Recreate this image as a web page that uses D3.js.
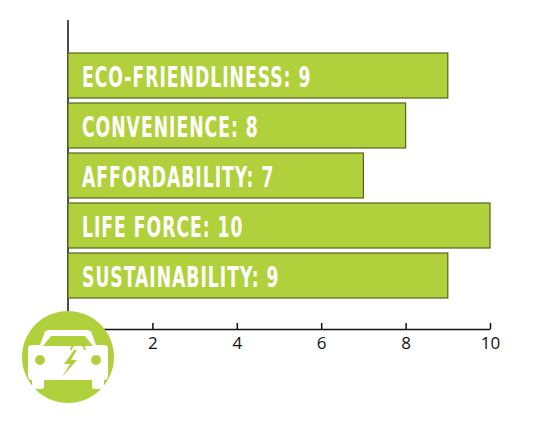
<!DOCTYPE html>
<html>
<head>
<meta charset="utf-8">
<script src="https://cdn.jsdelivr.net/npm/d3@7"></script>
<style>
  body { margin: 0; background: #fff; }
  svg { display: block; }
</style>
</head>
<body>
<svg id="chart" width="534" height="445"></svg>
<script>
// chart data
var categories = ["ECO-FRIENDLINESS", "CONVENIENCE", "AFFORDABILITY", "LIFE FORCE", "SUSTAINABILITY"];
var values = [9, 8, 7, 10, 9];
var tickValues = [2, 4, 6, 8, 10];

var GREEN = "#b0d13c";
var EDGE = "#56661f";

var svg = d3.select("#chart");
var margin = {left: 68, top: 20, right: 44, bottom: 116};
var width = 534 - margin.left - margin.right;
var height = 445 - margin.top - margin.bottom;

var g = svg.append("g").attr("transform", `translate(${margin.left},${margin.top})`);

var x = d3.scaleLinear().domain([0, 10]).range([0, width]);
var y = d3.scaleBand()
    .domain(categories)
    .range([33, 278])
    .paddingInner(0.1)
    .paddingOuter(0);

// y axis is just a plain vertical line
g.append("line")
    .attr("x1", 0).attr("x2", 0)
    .attr("y1", 0).attr("y2", height)
    .style("stroke", "#111")
    .style("stroke-width", 1.5);

// x axis with small ticks pointing up
var xAxis = g.append("g")
    .attr("transform", `translate(0,${height})`)
    .call(d3.axisBottom(x).tickValues(tickValues).tickSizeInner(-6).tickSizeOuter(0).tickPadding(8));
xAxis.select(".domain").style("stroke", "#111").style("stroke-width", 1.5);
xAxis.selectAll(".tick line").style("stroke", "#111").style("stroke-width", 1.5);
xAxis.selectAll(".tick text")
    .style("font-family", "'Open Sans', 'Noto Sans', sans-serif")
    .style("font-size", "17px")
    .style("fill", "#111");

// bars
var bars = g.selectAll(".bar")
    .data(categories)
    .enter()
    .append("g")
    .attr("class", "bar");

bars.append("rect")
    .attr("x", 0)
    .attr("y", d => y(d))
    .attr("width", (d, i) => x(values[i]))
    .attr("height", y.bandwidth())
    .style("fill", GREEN)
    .style("stroke", EDGE)
    .style("stroke-width", 1.2);

bars.append("text")
    .attr("transform", d => `translate(14,${y(d) + y.bandwidth() / 2 + 11}) scale(0.66,1)`)
    .style("font-family", "'DejaVu Sans Condensed', 'DejaVu Sans', sans-serif")
    .style("font-weight", "bold")
    .style("font-size", "29px")
    .style("letter-spacing", "1.5px")
    .style("fill", "#fff")
    .text((d, i) => `${d}: ${values[i]}`);

// car badge over the axis corner
var icon = svg.append("g").attr("transform", "translate(68,357)");
icon.append("circle").attr("r", 46).style("fill", GREEN);

// car body with roof
icon.append("path")
    .attr("d", "M-19,-27 L19,-27 Q23,-27 24,-23 L28,-12 L36,-12 Q40,-12 40,-8 L40,19 Q40,23 36,23 L-36,23 Q-40,23 -40,19 L-40,-8 Q-40,-12 -36,-12 L-28,-12 L-24,-23 Q-23,-27 -19,-27 Z")
    .style("fill", "#fff");
// wheels
icon.append("rect").attr("x", -36).attr("y", 20).attr("width", 12).attr("height", 12).attr("rx", 2).style("fill", "#fff");
icon.append("rect").attr("x", 24).attr("y", 20).attr("width", 12).attr("height", 12).attr("rx", 2).style("fill", "#fff");
// windshield
icon.append("path")
    .attr("d", "M-17,-21 L17,-21 L25,-11 L-25,-11 Z")
    .style("fill", GREEN);
// headlights
icon.append("circle").attr("cx", -28).attr("cy", 3).attr("r", 5).style("fill", GREEN);
icon.append("circle").attr("cx", 28).attr("cy", 3).attr("r", 5).style("fill", GREEN);
// plug arc
icon.append("path")
    .attr("d", "M3,-7 A7,6 0 0 1 17,-7")
    .style("fill", "none")
    .style("stroke", GREEN)
    .style("stroke-width", 2);
// lightning bolt
icon.append("path")
    .attr("d", "M6,-7 L-4,7 L2,7 L-6,20 L9,3 L3,3 L9,-7 Z")
    .style("fill", GREEN);
</script>
</body>
</html>
